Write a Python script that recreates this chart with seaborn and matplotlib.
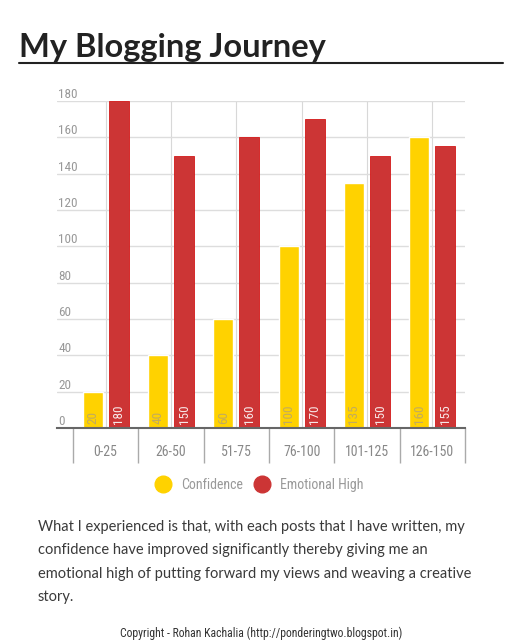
import numpy as np
import pandas as pd
import seaborn as sns
import matplotlib.pyplot as plt
from matplotlib import font_manager

# data
ranges = ["0-25", "26-50", "51-75", "76-100", "101-125", "126-150"]
confidence = [20, 40, 60, 100, 135, 160]
emotional_high = [180, 150, 160, 170, 150, 155]
series_names = ["Confidence", "Emotional High"]
y_ticks = [0, 20, 40, 60, 80, 100, 120, 140, 160, 180]

title = "My Blogging Journey"
paragraph = ("What I experienced is that, with each posts that I have written, my\n"
             "confidence have improved significantly thereby giving me an\n"
             "emotional high of putting forward my views and weaving a creative\n"
             "story.")
footer = "Copyright - Rohan Kachalia (http://ponderingtwo.blogspot.in)"

YELLOW = "#FFD200"
RED = "#CC3535"

df = pd.DataFrame({
    "range": ranges * 2,
    "value": confidence + emotional_high,
    "series": [series_names[0]] * len(ranges) + [series_names[1]] * len(ranges),
})

sns.set_style("white")
installed = {f.name for f in font_manager.fontManager.ttflist}
narrow = [f for f in ["Roboto Condensed", "Liberation Sans Narrow", "Lato"] if f in installed] + ["DejaVu Sans"]
plt.rcParams["font.family"] = ["Lato", "DejaVu Sans"]

fig = plt.figure(figsize=(5.23, 6.4), dpi=100)
ax = fig.add_axes([57 / 523, 212 / 640, 408 / 523, 327 / 640])

# grid behind the bars
ax.set_axisbelow(True)
sns.barplot(data=df, x="range", y="value", hue="series",
            palette=[YELLOW, RED], width=0.8, gap=0.23,
            saturation=1, legend=False, ax=ax, zorder=3)

for bar in ax.containers[1]:
    bar.set_edgecolor("#D41818")
    bar.set_linewidth(0.6)

ax.set_ylim(0, 180)
ax.set_xlim(-0.745, len(ranges) - 0.5)
ax.set_yticks(y_ticks)
ax.yaxis.grid(True, color="#dddddd", linewidth=1)
ax.set_xticks(np.arange(len(ranges)))
ax.xaxis.grid(True, color="#d8d8d8", linewidth=0.8)
ax.set_xticks(np.arange(len(ranges) + 1) - 0.5, minor=True)
ax.set_xlabel("")
ax.set_ylabel("")

ax.tick_params(axis="x", which="major", length=0, pad=12, labelsize=10,
               labelcolor="#888888")
ax.tick_params(axis="x", which="minor", length=25, width=1, color="#aaaaaa",
               direction="out", bottom=True)
ax.tick_params(axis="y", length=0, pad=-1, labelsize=9.5, labelcolor="#999999")
for lab in ax.get_xticklabels():
    lab.set_family(narrow)
for lab in ax.get_yticklabels():
    lab.set_family(narrow)
    lab.set_horizontalalignment("left")
    lab.set_verticalalignment("bottom")

for side in ["top", "right", "left"]:
    ax.spines[side].set_visible(False)
ax.spines["bottom"].set_color("#666666")
ax.spines["bottom"].set_linewidth(1.5)
ax.spines["bottom"].set_zorder(5)

# value labels, rotated, at the foot of each bar
label_colors = ["#c2ab5e", "#f8e8e8"]
for cont, vals, col in zip(ax.containers, [confidence, emotional_high], label_colors):
    for bar, v in zip(cont, vals):
        ax.text(bar.get_x() + bar.get_width() / 2, 2, str(v), rotation=90,
                ha="center", va="bottom", fontsize=9.5, color=col,
                family=narrow, zorder=6)

# legend
handles = [plt.Line2D([], [], marker="o", linestyle="", markersize=12,
                      markerfacecolor=c, markeredgecolor=c) for c in [YELLOW, RED]]
fig.legend(handles, series_names, loc="center", bbox_to_anchor=(0.49, 1 - 485 / 640),
           ncol=2, frameon=False, labelcolor="#999999",
           handletextpad=0.3, columnspacing=0.4, prop={"family": narrow, "size": 10})

# title and underline
fig.text(19 / 523, 1 - 47 / 640, title, fontsize=23.5, fontweight="bold",
         color="#222222", ha="left", va="center")
fig.add_artist(plt.Line2D([19 / 523, 503 / 523], [1 - 63 / 640, 1 - 63 / 640],
                          color="#222222", linewidth=1.5))

fig.text(38 / 523, 1 - 520 / 640, paragraph, fontsize=10.5, color="#3a3a3a",
         ha="left", va="top", linespacing=1.85)
fig.text(0.5, 1 - 633 / 640, footer, fontsize=8.5, color="#333333",
         ha="center", va="center", family=narrow)

fig.savefig("out.png", dpi=100, facecolor="white")
